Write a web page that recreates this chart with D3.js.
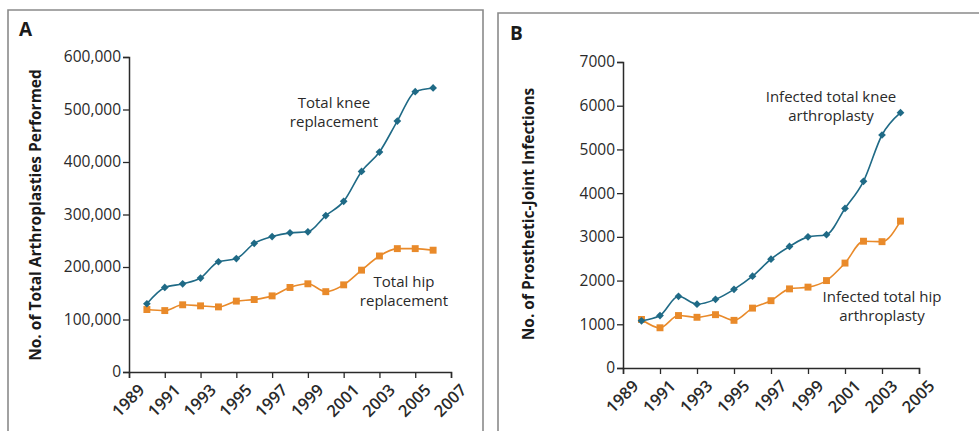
<!DOCTYPE html>
<html><head><meta charset="utf-8">
<script src="https://cdn.jsdelivr.net/npm/d3@7"></script>
<style>
body{margin:0;background:#fff;}
svg{display:block;font-family:"Open Sans",sans-serif;}
</style></head>
<body><svg id="c" width="979" height="431"></svg>
<script>
// ---- Data ----
const yearsA = [1990,1991,1992,1993,1994,1995,1996,1997,1998,1999,2000,2001,2002,2003,2004,2005,2006];
const kneeA = [130000,161000,168000,179000,210000,216000,245000,258000,265000,267000,298000,325000,382000,419000,478000,534000,541000];
const hipA  = [119000,117000,128000,126000,124000,135000,138000,145000,161000,168000,153000,166000,194000,221000,235000,235000,232000];
const xTicksA = [1989,1991,1993,1995,1997,1999,2001,2003,2005,2007];
const yTicksA = [0,100000,200000,300000,400000,500000,600000];

const yearsB = [1990,1991,1992,1993,1994,1995,1996,1997,1998,1999,2000,2001,2002,2003,2004];
const kneeB = [1080,1200,1640,1460,1570,1800,2100,2490,2780,3000,3050,3650,4270,5330,5840];
const hipB  = [1110,920,1200,1160,1220,1090,1370,1540,1810,1850,2000,2400,2900,2890,3360];
const xTicksB = [1989,1991,1993,1995,1997,1999,2001,2003,2005];
const yTicksB = [0,1000,2000,3000,4000,5000,6000,7000];

const teal = "#1f6a86", orange = "#e98a2a", ink = "#2a2a2a";
const svg = d3.select("#c");

// panel frames
svg.append("path").attr("d","M8,440V10H483V440").attr("fill","none").attr("stroke","#8a8a8a").attr("stroke-width",1.6);
svg.append("path").attr("d","M498,440V13H990").attr("fill","none").attr("stroke","#8a8a8a").attr("stroke-width",1.6);

function panel(o){
  const g = svg.append("g");
  const x = d3.scaleLinear().domain(o.xDomain).range([o.x0,o.x1]);
  const y = d3.scaleLinear().domain(o.yDomain).range([o.y0,o.y1]);
  g.append("text").attr("x",o.lx).attr("y",o.ly).text(o.letter)
    .attr("font-family","Open Sans").attr("font-weight",700).attr("font-size",19).attr("fill","#1a1a1a");
  const ya = g.append("g").attr("transform",`translate(${o.x0},0)`)
    .call(d3.axisLeft(y).tickValues(o.yTicks).tickSize(6).tickPadding(2).tickFormat(o.yFmt));
  const xa = g.append("g").attr("transform",`translate(0,${o.y0})`)
    .call(d3.axisBottom(x).tickValues(o.xTicks).tickSize(6).tickFormat(d3.format("d")));
  [ya,xa].forEach(a=>{
    a.attr("font-size",null).attr("font-family",null);
    a.select(".domain").attr("stroke",ink).attr("stroke-width",1.5);
    a.selectAll(".tick line").attr("stroke",ink).attr("stroke-width",1.3);
    a.selectAll("text").style("font-size","15.5px").attr("fill",ink).style("font-family","Open Sans");
  });
  xa.selectAll(".tick text").style("font-size","16.5px").style("font-weight","600")
    .attr("text-anchor","end").attr("dy",null).attr("y",0)
    .attr("transform","translate(6,9) rotate(-45)").attr("dominant-baseline","hanging");
  g.append("text").attr("transform",`translate(${o.tx},${o.ty}) rotate(-90)`)
    .attr("text-anchor","middle").attr("font-weight",700).attr("font-size",15.5).attr("fill","#1a1a1a")
    .text(o.title);
  const line = d3.line().x(d=>x(d[0])).y(d=>y(d[1])).curve(d3.curveMonotoneX);
  const series = [
    {years:o.years, vals:o.knee, color:teal, sym:d3.symbolSquare, size:30, rot:45},
    {years:o.years, vals:o.hip, color:orange, sym:d3.symbolSquare, size:48, rot:0}
  ];
  [series[1],series[0]].forEach(s=>{
    const pts = s.years.map((yr,i)=>[yr,s.vals[i]]);
    g.append("path").attr("d",line(pts)).attr("fill","none").attr("stroke",s.color).attr("stroke-width",1.6);
    g.selectAll(null).data(pts).enter().append("path")
      .attr("d",d3.symbol().type(s.sym).size(s.size))
      .attr("transform",d=>`translate(${x(d[0])},${y(d[1])}) rotate(${s.rot})`).attr("fill",s.color);
  });
  o.labels.forEach(l=>{
    const t = g.append("text").attr("text-anchor","middle").attr("font-size",15).attr("fill",ink);
    l.lines.forEach((s,i)=>t.append("tspan").attr("x",l.x).attr("y",l.y+i*19).text(s));
  });
}

panel({letter:"A", lx:19, ly:36, xDomain:[1989,2007], x0:129, x1:451,
  yDomain:[0,600000], y0:372, y1:57, xTicks:xTicksA, yTicks:yTicksA,
  yFmt:d3.format(","), title:"No. of Total Arthroplasties Performed", tx:41, ty:215,
  years:yearsA, knee:kneeA, hip:hipA,
  labels:[{x:334,y:108,lines:["Total knee","replacement"]},{x:404,y:287,lines:["Total hip","replacement"]}]});

panel({letter:"B", lx:510, ly:40, xDomain:[1989,2005], x0:623, x1:919,
  yDomain:[0,7000], y0:368, y1:62, xTicks:xTicksB, yTicks:yTicksB,
  yFmt:d3.format("d"), title:"No. of Prosthetic-Joint Infections", tx:534, ty:214,
  years:yearsB, knee:kneeB, hip:hipB,
  labels:[{x:831,y:102,lines:["Infected total knee","arthroplasty"]},{x:882,y:302,lines:["Infected total hip","arthroplasty"]}]});
</script></body></html>
